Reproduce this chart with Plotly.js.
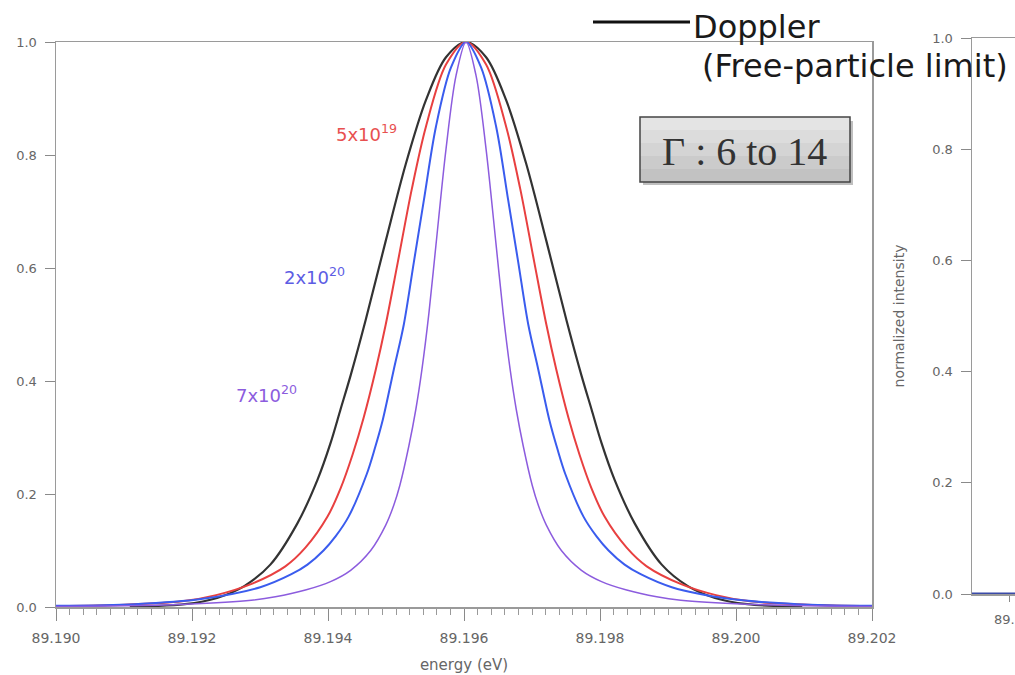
<!DOCTYPE html>
<html>
<head>
<meta charset="utf-8">
<script src="https://cdn.plot.ly/plotly-3.0.1.min.js"></script>
<style>html,body{margin:0;padding:0;background:#fff;}#chart{width:1015px;height:675px;}</style>
</head>
<body>
<div id="chart"></div>
<script>
// ---- data ----
const energyDoppler = [89.191085, 89.191897, 89.192369, 89.192768, 89.193152, 89.19355, 89.193845, 89.194037, 89.194185, 89.194333, 89.194554, 89.194849, 89.195144, 89.19544, 89.195735, 89.19603, 89.196325, 89.19662, 89.196916, 89.197211, 89.197506, 89.197727, 89.197875, 89.198023, 89.198215, 89.19851, 89.198908, 89.199292, 89.199691, 89.200163, 89.200975];
const intensityDoppler = [0.0005, 0.005, 0.016, 0.037, 0.075, 0.148, 0.225, 0.29, 0.35, 0.41, 0.508, 0.648, 0.784, 0.897, 0.973, 1.0, 0.973, 0.897, 0.784, 0.648, 0.508, 0.41, 0.35, 0.29, 0.225, 0.148, 0.075, 0.037, 0.016, 0.005, 0.0005];

const energy5e19 = [89.190, 89.191012, 89.191853, 89.192355, 89.192857, 89.193373, 89.193668, 89.193993, 89.194185, 89.194362, 89.194524, 89.194702, 89.194849, 89.195026, 89.195233, 89.19544, 89.195735, 89.19603, 89.196325, 89.19662, 89.196827, 89.197034, 89.197211, 89.197358, 89.197536, 89.197698, 89.197875, 89.198067, 89.198392, 89.198687, 89.199203, 89.199705, 89.200207, 89.201048, 89.202];
const intensity5e19 = [0.0015, 0.004, 0.01, 0.021, 0.04, 0.072, 0.105, 0.16, 0.21, 0.27, 0.335, 0.42, 0.5, 0.61, 0.74, 0.85, 0.96, 1.0, 0.96, 0.85, 0.74, 0.61, 0.5, 0.42, 0.335, 0.27, 0.21, 0.16, 0.105, 0.072, 0.04, 0.021, 0.01, 0.004, 0.0015];

const energy2e20 = [89.190, 89.191159, 89.192133, 89.193004, 89.193462, 89.193698, 89.193934, 89.194111, 89.194303, 89.194569, 89.194687, 89.194805, 89.194967, 89.195115, 89.195262, 89.19541, 89.195587, 89.195809, 89.19603, 89.196251, 89.196473, 89.19665, 89.196798, 89.196945, 89.197093, 89.197255, 89.197373, 89.197491, 89.197757, 89.197949, 89.198126, 89.198362, 89.198598, 89.199056, 89.199927, 89.200901, 89.202];
const intensity2e20 = [0.002, 0.005, 0.014, 0.035, 0.058, 0.075, 0.1, 0.125, 0.16, 0.235, 0.28, 0.331, 0.42, 0.5, 0.61, 0.72, 0.85, 0.955, 1.0, 0.955, 0.85, 0.72, 0.61, 0.5, 0.42, 0.331, 0.28, 0.235, 0.16, 0.125, 0.1, 0.075, 0.058, 0.035, 0.014, 0.005, 0.002];

const energy7e20 = [89.190, 89.191012, 89.191897, 89.192871, 89.193226, 89.193668, 89.194037, 89.194333, 89.194628, 89.194849, 89.194967, 89.195056, 89.195189, 89.195292, 89.195381, 89.195484, 89.195587, 89.195735, 89.195882, 89.19603, 89.196178, 89.196325, 89.196473, 89.196576, 89.196679, 89.196768, 89.196871, 89.197004, 89.197093, 89.197211, 89.197432, 89.197727, 89.198023, 89.198392, 89.198834, 89.199189, 89.200163, 89.201048, 89.202];
const intensity7e20 = [0.001, 0.002, 0.005, 0.012, 0.018, 0.03, 0.045, 0.065, 0.1, 0.145, 0.18, 0.215, 0.285, 0.35, 0.42, 0.52, 0.64, 0.81, 0.94, 1.0, 0.94, 0.81, 0.64, 0.52, 0.42, 0.35, 0.285, 0.215, 0.18, 0.145, 0.1, 0.065, 0.045, 0.03, 0.018, 0.012, 0.005, 0.002, 0.001];

const energyPanel2 = [89.1862, 89.1906];
const intensityPanel2 = [0, 0];

const seriesLabels = ['5x10<sup>19</sup>', '2x10<sup>20</sup>', '7x10<sup>20</sup>'];
const legendLine1 = 'Doppler';
const legendLine2 = '(Free-particle limit)';
const gammaText = '\u0393 : 6 to 14';
const xTitle = 'energy (eV)';
const y2Title = 'normalized intensity';
const panel2TickLabel = '89.190';

// ---- helpers (pixel -> paper) ----
const W = 1015, H = 675;
const px = x => x / W;
const py = y => 1 - y / H;

const FONT = 'DejaVu Sans, Verdana, sans-serif';
const colBlack = '#333333', colRed = 'rgb(232,64,64)', colBlue = 'rgb(58,92,238)', colPurple = 'rgb(140,92,222)';
const SPL = 0.9;

const traces = [
  {x: energyDoppler, y: intensityDoppler, mode: 'lines', line: {color: colBlack, width: 2.2, shape: 'spline', smoothing: SPL}, xaxis: 'x', yaxis: 'y'},
  {x: energy5e19, y: intensity5e19, mode: 'lines', line: {color: colRed, width: 2, shape: 'spline', smoothing: SPL}, xaxis: 'x', yaxis: 'y'},
  {x: energy2e20, y: intensity2e20, mode: 'lines', line: {color: colBlue, width: 2, shape: 'spline', smoothing: SPL}, xaxis: 'x', yaxis: 'y'},
  {x: energy7e20, y: intensity7e20, mode: 'lines', line: {color: colPurple, width: 1.5, shape: 'spline', smoothing: SPL}, xaxis: 'x', yaxis: 'y'},
  {x: energyPanel2, y: intensityPanel2, mode: 'lines', line: {color: '#3a4aa8', width: 3}, xaxis: 'x2', yaxis: 'y2'}
];

const axisCommon = {
  showline: true, linecolor: '#9a9a9a', linewidth: 1.5, showgrid: false, zeroline: false,
  ticks: 'outside', tickcolor: '#8a8a8a', tickwidth: 1,
  tickfont: {family: FONT, size: 13, color: '#666'}
};

// box gradient strips
const boxX0 = 640, boxX1 = 850, boxY0 = 117, boxY1 = 182;
const stripCols = ['#e4e4e4', '#dcdcdc', '#d4d4d4', '#cbcbcb', '#c2c2c2'];
const shapes = [
  {type: 'line', xref: 'paper', yref: 'paper', x0: px(593), x1: px(690), y0: py(22), y1: py(22), line: {color: '#111', width: 3}},
  {type: 'rect', xref: 'paper', yref: 'paper', x0: px(643), x1: px(853), y0: py(121), y1: py(185), fillcolor: 'rgba(0,0,0,0.25)', line: {width: 0}}
];
const sh = (boxY1 - boxY0) / stripCols.length;
stripCols.forEach((c, i) => {
  shapes.push({type: 'rect', xref: 'paper', yref: 'paper', x0: px(boxX0), x1: px(boxX1), y0: py(boxY0 + i * sh), y1: py(boxY0 + (i + 1) * sh), fillcolor: c, line: {width: 0}});
});
shapes.push({type: 'rect', xref: 'paper', yref: 'paper', x0: px(boxX0), x1: px(boxX1), y0: py(boxY0), y1: py(boxY1), fillcolor: 'rgba(0,0,0,0)', line: {color: '#444', width: 1.5}});

const annotations = [
  {text: legendLine1, xref: 'paper', yref: 'paper', x: px(691), y: py(27), xanchor: 'left', yanchor: 'middle', showarrow: false, font: {family: FONT, size: 32, color: '#1a1a1a'}},
  {text: legendLine2, xref: 'paper', yref: 'paper', x: px(700), y: py(66), xanchor: 'left', yanchor: 'middle', showarrow: false, font: {family: FONT, size: 32, color: '#1a1a1a'}},
  {text: gammaText, xref: 'paper', yref: 'paper', x: px(744), y: py(151), xanchor: 'center', yanchor: 'middle', showarrow: false, font: {family: 'Liberation Serif, serif', size: 40, color: '#333'}},
  {text: seriesLabels[0], xref: 'paper', yref: 'paper', x: px(334), y: py(133), xanchor: 'left', yanchor: 'middle', showarrow: false, font: {family: FONT, size: 18, color: 'rgb(232,80,80)'}},
  {text: seriesLabels[1], xref: 'paper', yref: 'paper', x: px(282), y: py(276), xanchor: 'left', yanchor: 'middle', showarrow: false, font: {family: FONT, size: 18, color: 'rgb(92,92,228)'}},
  {text: seriesLabels[2], xref: 'paper', yref: 'paper', x: px(234), y: py(394), xanchor: 'left', yanchor: 'middle', showarrow: false, font: {family: FONT, size: 18, color: 'rgb(140,92,222)'}},
  {text: panel2TickLabel, xref: 'paper', yref: 'paper', x: px(992), y: py(619), xanchor: 'left', yanchor: 'middle', showarrow: false, font: {family: FONT, size: 13, color: '#666'}}
];

const layout = {
  width: W, height: H,
  margin: {l: 0, r: 0, t: 0, b: 0},
  paper_bgcolor: '#fff', plot_bgcolor: '#fff',
  showlegend: false,
  xaxis: Object.assign({}, axisCommon, {
    domain: [px(56), px(872)], range: [89.190, 89.202], anchor: 'y',
    tick0: 89.190, dtick: 0.002, tickformat: '.3f', ticklen: 12, mirror: true,
    tickfont: {family: FONT, size: 14, color: '#666'}, ticklabelstandoff: 6,
    minor: {dtick: 0.0002, ticks: 'outside', ticklen: 6, tickcolor: '#9a9a9a', showgrid: false},
    title: {text: xTitle, font: {family: FONT, size: 15, color: '#666'}, standoff: 14}
  }),
  yaxis: Object.assign({}, axisCommon, {
    domain: [1 - 607 / H, 1 - 42 / H], range: [0, 1], anchor: 'x',
    dtick: 0.2, tick0: 0, tickformat: '.1f', ticklen: 10, mirror: true, ticklabelstandoff: 5
  }),
  xaxis2: Object.assign({}, axisCommon, {
    domain: [px(972), 1], range: [89.1862, 89.1906], anchor: 'y2',
    tickvals: [89.190], ticklen: 6, mirror: true, showticklabels: false
  }),
  yaxis2: Object.assign({}, axisCommon, {
    domain: [1 - 594 / H, 1 - 38 / H], range: [0, 1], anchor: 'x2',
    dtick: 0.2, tick0: 0, tickformat: '.1f', ticklen: 10, mirror: false, ticklabelstandoff: 5,
    title: {text: y2Title, font: {family: FONT, size: 14, color: '#666'}, standoff: 24}
  }),
  shapes: shapes,
  annotations: annotations
};

Plotly.newPlot('chart', traces, layout, {displayModeBar: false, staticPlot: true});
</script>
</body>
</html>
